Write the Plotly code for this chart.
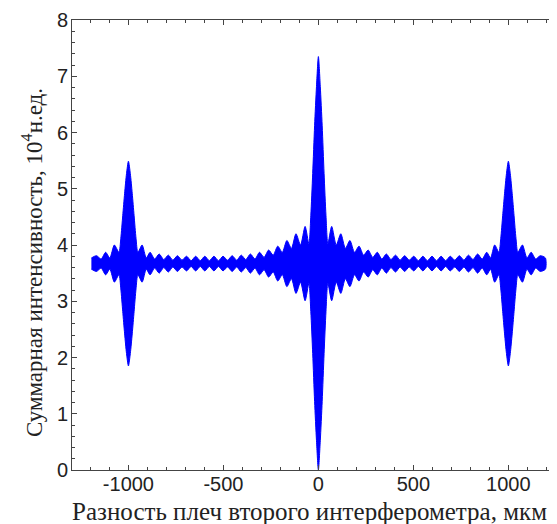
import plotly.graph_objects as go

# Path difference of the second interferometer, µm (envelope sample positions, x >= 0 half)
x_half = [0, 10, 20, 30, 40, 50, 70, 94, 118, 142, 166, 190, 214, 238, 262, 286, 310, 334,
          358, 382, 406, 430, 454, 478, 502, 526, 550, 574, 598, 622, 646, 670, 694, 718,
          742, 766, 790, 814, 838, 862, 886, 906, 928, 950, 960, 970, 980, 990, 1000,
          1010, 1020, 1030, 1040, 1050, 1074, 1098, 1120, 1144, 1168, 1195]

# Half-width of the oscillation envelope (10^4 a.u.)
amp_half = [3.68, 3.15, 2.45, 1.6, 0.85, 0.35, 0.66, 0.33, 0.53, 0.27, 0.41, 0.2, 0.31, 0.15,
            0.24, 0.11, 0.2, 0.08, 0.17, 0.07, 0.15, 0.06, 0.14, 0.06, 0.13, 0.05, 0.13, 0.05,
            0.13, 0.05, 0.13, 0.05, 0.13, 0.06, 0.14, 0.06, 0.15, 0.07, 0.17, 0.08, 0.2, 0.1,
            0.33, 0.2, 0.45, 0.85, 1.25, 1.6, 1.82, 1.6, 1.25, 0.85, 0.45, 0.2, 0.33, 0.1,
            0.2, 0.08, 0.14, 0.1]

# Mean signal level (10^4 a.u.)
mean_level = 3.67

x_tick_vals = [-1000, -500, 0, 500, 1000]
y_tick_vals = [0, 1, 2, 3, 4, 5, 6, 7, 8]

x_title = "Разность плеч второго интерферометра, мкм"
y_title = "Суммарная интенсивность, 10<sup>4</sup>н.ед."

# full symmetric envelope
xs = [-v for v in x_half[:0:-1]] + x_half
amps = amp_half[:0:-1] + amp_half
upper = [mean_level + a for a in amps]
lower = [max(mean_level - a, 0.0) for a in amps]

x_poly = xs + xs[::-1]
y_poly = upper + lower[::-1]

fig = go.Figure()
fig.add_trace(go.Scatter(
    x=x_poly, y=y_poly, mode="lines", fill="toself",
    fillcolor="#0000ff", line=dict(color="#0000ff", width=1, shape="spline", smoothing=0.7),
    hoverinfo="skip",
))

axis_col = "#444444"
tick_font = dict(family="Liberation Sans, Arial, sans-serif", size=20, color="#222222")
serif = "Liberation Serif, Times New Roman, serif"

# page body has an 8 px margin, so the figure is sized to fit the 557x524 window
fig.update_layout(
    width=549, height=516,
    margin=dict(l=64, r=0, t=12, b=54),
    plot_bgcolor="white", paper_bgcolor="white",
    showlegend=False,
)
fig.update_xaxes(
    range=[-1297, 1256], automargin=False,
    tickmode="array", tickvals=x_tick_vals, ticktext=[str(v) for v in x_tick_vals],
    ticks="inside", ticklen=5, tickwidth=1, tickcolor=axis_col,
    minor=dict(dtick=100, tick0=0, ticks="inside", ticklen=3, tickcolor=axis_col),
    showline=True, linecolor=axis_col, linewidth=1, mirror="ticks",
    showgrid=False, zeroline=False,
    tickfont=tick_font, ticklabelstandoff=-4,
)
fig.update_yaxes(
    range=[0, 8], automargin=False,
    tickmode="array", tickvals=y_tick_vals, ticktext=[str(v) for v in y_tick_vals],
    ticks="inside", ticklen=5, tickwidth=1, tickcolor=axis_col,
    minor=dict(dtick=0.2, tick0=0, ticks="inside", ticklen=3, tickcolor=axis_col),
    showline=True, linecolor=axis_col, linewidth=1, mirror=False,
    showgrid=False, zeroline=False,
    tickfont=tick_font, ticklabelstandoff=-1,
)

fig.add_annotation(
    text=x_title, xref="paper", yref="paper", x=0.489, y=-0.093,
    xanchor="center", yanchor="middle", showarrow=False,
    font=dict(family=serif, size=25, color="#222222"),
)
fig.add_annotation(
    text=y_title, xref="paper", yref="paper", x=-0.0825, y=0.462,
    xanchor="center", yanchor="middle", showarrow=False, textangle=-90,
    font=dict(family=serif, size=23, color="#222222"),
)

fig.write_html("out.html")
